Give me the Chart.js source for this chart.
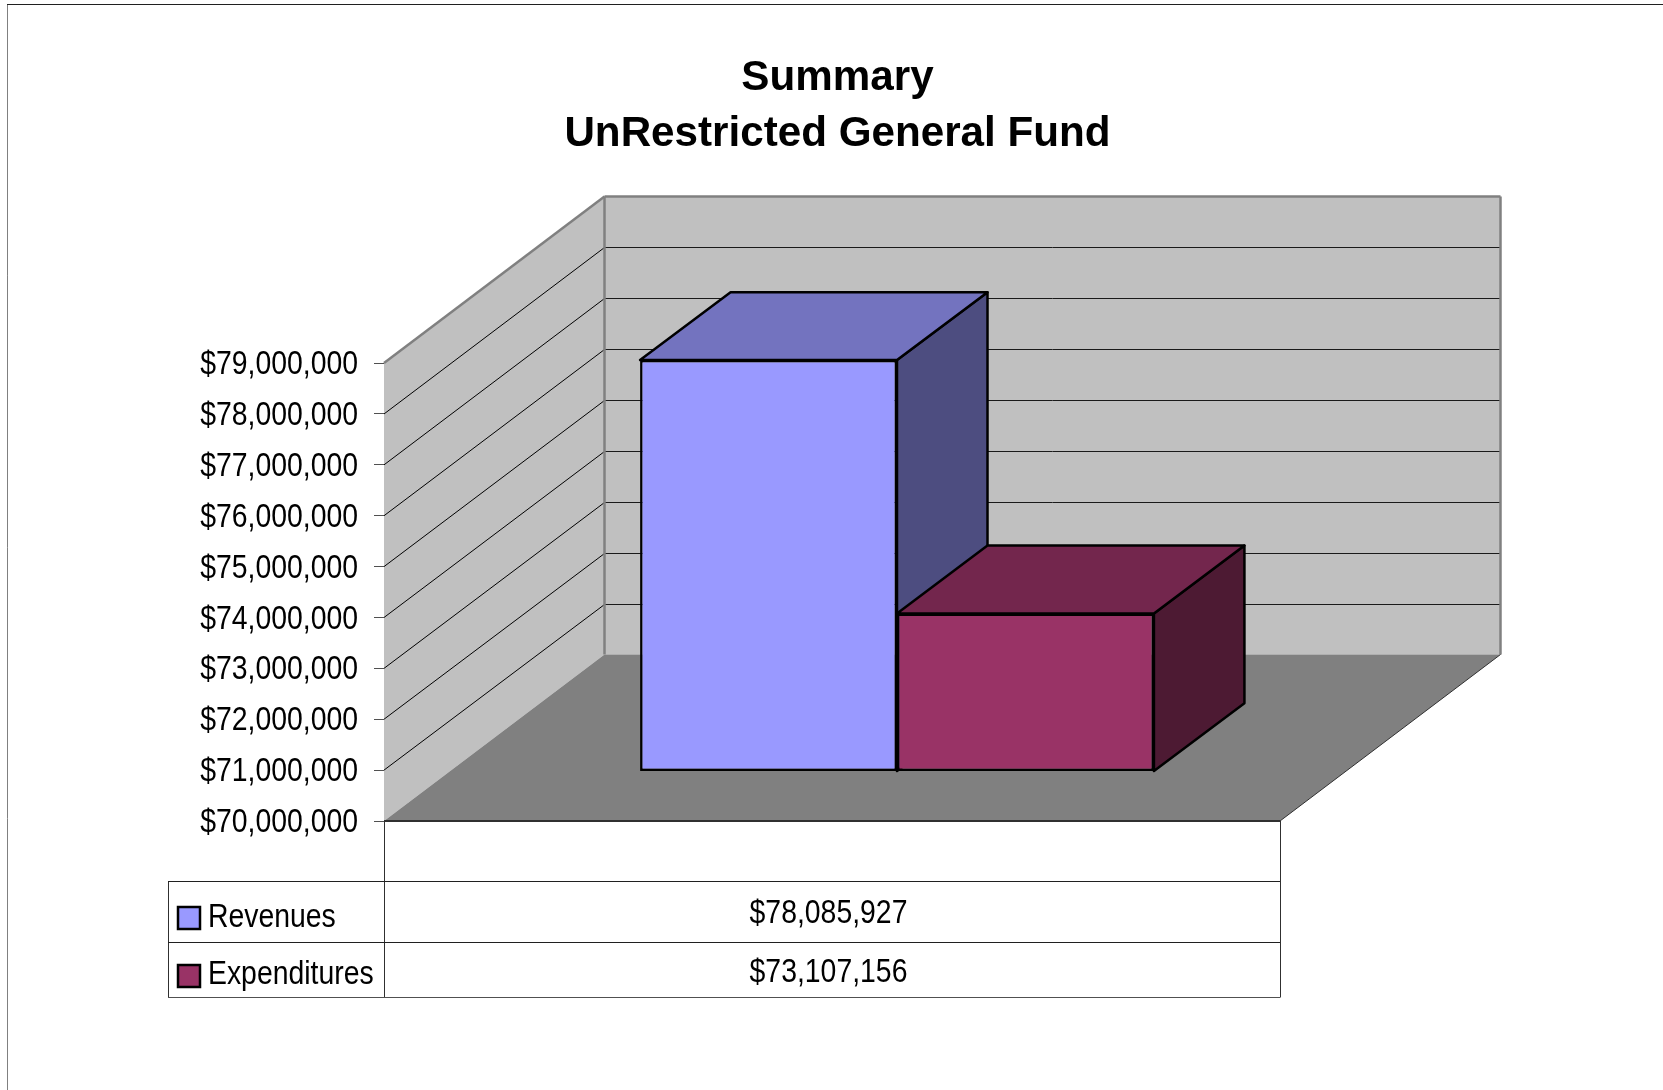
<!DOCTYPE html>
<html>
<head>
<meta charset="utf-8">
<style>
html, body { margin: 0; padding: 0; background: #fff; }
#wrap { width: 1663px; height: 1090px; position: relative; }
</style>
<script src="https://cdn.jsdelivr.net/npm/chart.js@4/dist/chart.umd.min.js"></script>
</head>
<body>
<div id="wrap"><canvas id="summaryChart" width="1663" height="1090"></canvas></div>
<script>
const titleLines = ['Summary', 'UnRestricted General Fund'];
const categories = [''];
const seriesNames = ['Revenues', 'Expenditures'];
const revenues = [78085927];
const expenditures = [73107156];
const axisMin = 70000000;
const axisMax = 79000000;
const axisStep = 1000000;

const labelFont = '"Liberation Sans", Arial, sans-serif';
const labelSize = 33;
const squeeze = 0.86; // no narrow font installed, so the labels get squeezed sideways
const frontColors = ['#9999FF', '#993366'];
const topColors = ['#7373BF', '#73264D'];
const sideColors = ['#4D4D80', '#4D1A33'];

// pseudo 3d: how far the back wall and the bars sit from the front plane
const wallDx = 220.5, wallDy = 166.5;
const barShiftX = 65, barShiftY = -49.5;
const barDepthX = 90.5, barDepthY = 67.8;

function money(v) {
    return '$' + v.toLocaleString('en-US');
}

function poly(ctx, pts, fill, stroke, lw) {
    ctx.beginPath();
    pts.forEach((p, i) => i ? ctx.lineTo(p[0], p[1]) : ctx.moveTo(p[0], p[1]));
    ctx.closePath();
    if (fill) { ctx.fillStyle = fill; ctx.fill(); }
    if (stroke) { ctx.strokeStyle = stroke; ctx.lineWidth = lw; ctx.lineJoin = 'round'; ctx.stroke(); }
}

function line(ctx, x1, y1, x2, y2, color, lw) {
    ctx.beginPath();
    ctx.moveTo(x1, y1);
    ctx.lineTo(x2, y2);
    ctx.strokeStyle = color;
    ctx.lineWidth = lw;
    ctx.stroke();
}

function narrowText(ctx, text, x, y) {
    ctx.save();
    ctx.translate(x, y);
    ctx.scale(squeeze, 1);
    ctx.fillText(text, 0, 0);
    ctx.restore();
}

const box3d = {
    id: 'box3d',
    afterLayout(chart) {
        // squeeze the axis labels around their right edge
        const y = chart.scales.y, ctx = chart.ctx;
        if (y.squeezed) return;
        y.squeezed = true;
        const drawLabels = y.drawLabels;
        y.drawLabels = function (area) {
            const edge = chart.chartArea.left - 26;
            ctx.save();
            ctx.translate(edge, 2);
            ctx.scale(squeeze, 1);
            ctx.translate(-edge, 0);
            drawLabels.call(this, area);
            ctx.restore();
        };
    },
    beforeDatasetsDraw(chart) {
        const ctx = chart.ctx, a = chart.chartArea, y = chart.scales.y;
        const L = a.left, R = a.right, T = a.top, B = a.bottom;
        ctx.save();
        // walls and floor
        poly(ctx, [[L, T], [L + wallDx, T - wallDy], [L + wallDx, B - wallDy], [L, B]], '#C0C0C0');
        poly(ctx, [[L + wallDx, T - wallDy], [R + wallDx, T - wallDy], [R + wallDx, B - wallDy], [L + wallDx, B - wallDy]], '#C0C0C0');
        poly(ctx, [[L, B], [L + wallDx, B - wallDy], [R + wallDx, B - wallDy], [R, B]], '#808080');
        // gridlines
        y.ticks.forEach(t => {
            if (t.value === axisMin || t.value === axisMax) return;
            const py = y.getPixelForValue(t.value);
            const back = Math.round(py - wallDy) + 0.5;
            line(ctx, L, py, L + wallDx, back, '#000', 1);
            line(ctx, L + wallDx, back, R + wallDx, back, '#1a1a1a', 1);
        });
        line(ctx, L, T, L + wallDx, T - wallDy, '#808080', 2.5);
        line(ctx, L + wallDx, T - wallDy, R + wallDx, T - wallDy, '#808080', 2.5);
        line(ctx, L + wallDx, T - wallDy, L + wallDx, B - wallDy, '#808080', 2.5);
        line(ctx, R + wallDx, T - wallDy, R + wallDx, B - wallDy, '#808080', 2.5);
        line(ctx, L, B, R, B, '#303030', 2);
        line(ctx, R, B, R + wallDx, B - wallDy, '#303030', 1);
        // bar side and top faces, the front faces come from the library
        [0, 1].forEach(i => {
            const bar = chart.getDatasetMeta(i).data[0];
            const x1 = bar.x - bar.width / 2 + barShiftX, x2 = bar.x + bar.width / 2 + barShiftX;
            const top = bar.y + barShiftY, bot = bar.base + barShiftY;
            poly(ctx, [[x2, top], [x2 + barDepthX, top - barDepthY], [x2 + barDepthX, bot - barDepthY], [x2, bot]], sideColors[i], '#000', 2.5);
            poly(ctx, [[x1, top], [x2, top], [x2 + barDepthX, top - barDepthY], [x1 + barDepthX, top - barDepthY]], topColors[i], '#000', 2.5);
        });
        ctx.restore();
    },
    beforeDatasetDraw(chart) {
        chart.ctx.save();
        chart.ctx.translate(barShiftX, barShiftY);
    },
    afterDatasetDraw(chart) {
        chart.ctx.restore();
    },
    afterDraw(chart) {
        const ctx = chart.ctx, a = chart.chartArea;
        const L = a.left, R = a.right, B = a.bottom;
        const tableLeft = 168, rowTop = 881.5, rowMid = 942.5, rowEnd = 997.5;
        ctx.save();
        // outer frame of the picture
        line(ctx, 7.5, 1090, 7.5, 4.5, '#808080', 1);
        line(ctx, 7, 4.5, 1663, 4.5, '#202020', 1);
        // data table
        line(ctx, L + 0.5, B, L + 0.5, rowEnd, '#303030', 1);
        line(ctx, R + 0.5, B, R + 0.5, rowEnd, '#303030', 1);
        line(ctx, tableLeft + 0.5, rowTop, tableLeft + 0.5, rowEnd, '#303030', 1);
        line(ctx, tableLeft, rowTop, R, rowTop, '#202020', 1);
        line(ctx, tableLeft, rowMid, R, rowMid, '#202020', 1);
        line(ctx, tableLeft, rowEnd, R, rowEnd, '#505050', 1);
        const rows = [[revenues[0], 907, 926.5, 923], [expenditures[0], 965, 984, 981.5]];
        ctx.font = labelSize + 'px ' + labelFont;
        ctx.textBaseline = 'alphabetic';
        rows.forEach((r, i) => {
            ctx.fillStyle = frontColors[i];
            ctx.strokeStyle = '#000';
            ctx.lineWidth = 2.5;
            ctx.fillRect(178, r[1], 22, 22);
            ctx.strokeRect(178, r[1], 22, 22);
            ctx.fillStyle = '#000';
            ctx.textAlign = 'left';
            narrowText(ctx, seriesNames[i], 208, r[2]);
            ctx.textAlign = 'center';
            narrowText(ctx, money(r[0]), 828.5, r[3]);
        });
        ctx.restore();
    }
};

new Chart(document.getElementById('summaryChart'), {
    type: 'bar',
    data: {
        labels: categories,
        datasets: [
            { label: seriesNames[0], data: revenues, base: axisMin, backgroundColor: frontColors[0], borderColor: '#000', borderWidth: 2.5, borderSkipped: false },
            { label: seriesNames[1], data: expenditures, base: axisMin, backgroundColor: frontColors[1], borderColor: '#000', borderWidth: 2.5, borderSkipped: false }
        ]
    },
    plugins: [box3d],
    options: {
        responsive: false,
        animation: false,
        devicePixelRatio: 1,
        categoryPercentage: 0.5735,
        barPercentage: 1,
        layout: { padding: { left: 12, right: 0, top: 0, bottom: 269 } },
        plugins: {
            legend: { display: false },
            tooltip: { enabled: false },
            title: {
                display: true,
                text: titleLines,
                color: '#000',
                font: { family: labelFont, size: 42.2, weight: 'bold', lineHeight: 1.34 },
                padding: { top: 50, bottom: 200 }
            }
        },
        scales: {
            x: { display: false },
            y: {
                min: axisMin,
                max: axisMax,
                afterFit: s => { s.width = 372; },
                border: { display: true, color: '#808080', width: 1 },
                grid: { drawOnChartArea: false, drawTicks: true, tickLength: 10, color: '#505050' },
                ticks: {
                    stepSize: axisStep,
                    padding: 16,
                    color: '#000',
                    font: { family: labelFont, size: labelSize },
                    callback: v => money(v)
                }
            },
            // keeps the plot narrower than the page so the title stays centred on the page
            ySpacer: {
                position: 'right',
                display: true,
                afterFit: s => { s.width = 383; },
                border: { display: false },
                grid: { display: false },
                ticks: { display: false }
            }
        }
    }
});
</script>
</body>
</html>
